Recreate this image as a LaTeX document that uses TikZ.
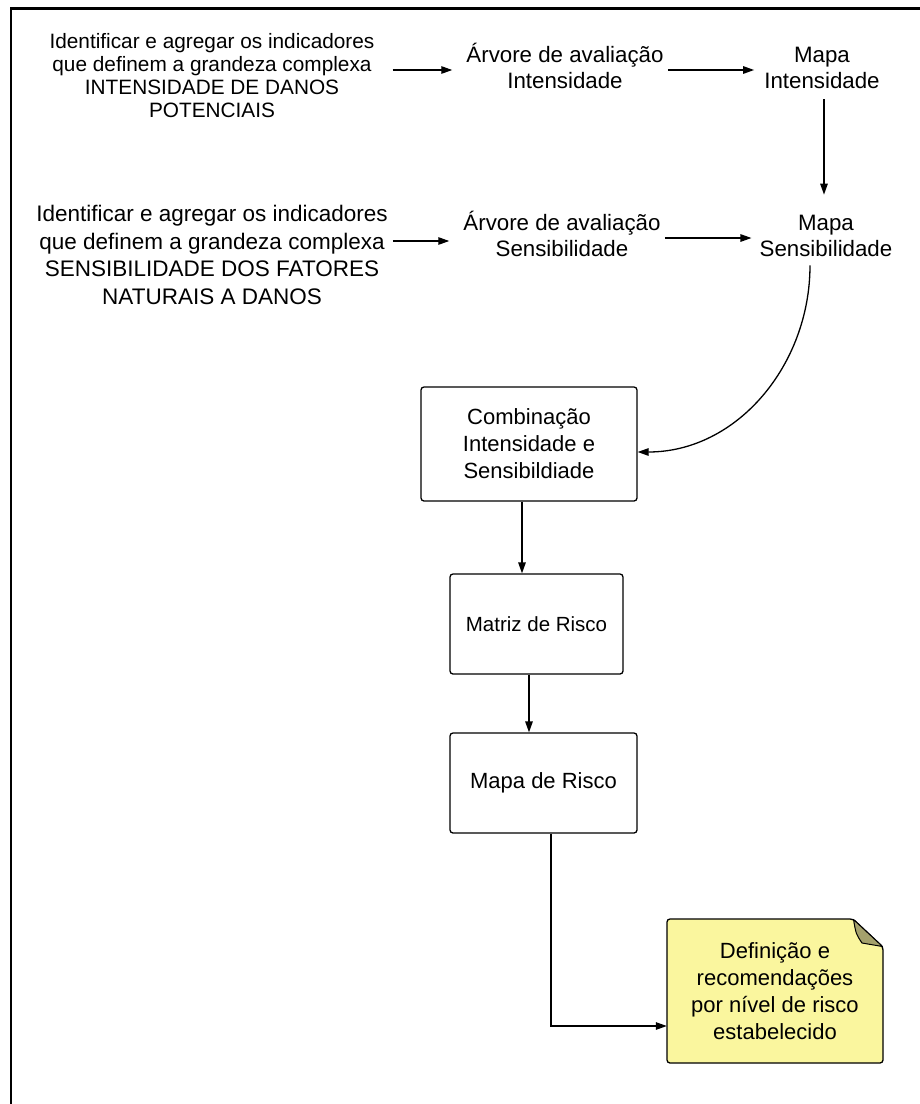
\documentclass[tikz,border=0pt]{standalone}
\usepackage{fontspec}
\setmainfont{Liberation Sans}
\usetikzlibrary{arrows.meta}
\definecolor{notefill}{RGB}{250,246,158}
\definecolor{notefold}{RGB}{164,161,108}

\begin{document}
\begin{tikzpicture}[x=1pt,y=-1pt,
  arr/.style={draw, line width=1.3pt, -{Triangle[length=11pt,width=7.5pt]}},
  lbl/.style={align=center, inner sep=0pt, font=\fontsize{22.3}{26.8}\selectfont},
  box/.style={draw, line width=1.3pt, rounded corners=3pt, align=center, inner sep=0pt},
]
\useasboundingbox (0,0) rectangle (920,1104);

% outer frame (runs past the page edge on the right and bottom)
\draw[line width=2.6pt] (11,1120) -- (11,8.5) -- (940,8.5);

% first row: intensity
\node[lbl, font=\fontsize{20.8}{23}\selectfont] (t1) at (212,76)
  {Identificar e agregar os indicadores\\que definem a grandeza complexa\\INTENSIDADE DE DANOS\\POTENCIAIS};
\node[lbl] (a1) at (565,66) {Árvore de avaliação\\Intensidade};
\node[lbl] (m1) at (822,68) {Mapa\\Intensidade};

% second row: sensitivity
\node[lbl, font=\fontsize{22.5}{27.4}\selectfont] (t2) at (212,255)
  {Identificar e agregar os indicadores\\que definem a grandeza complexa\\SENSIBILIDADE DOS FATORES\\NATURAIS A DANOS};
\node[lbl] (a2) at (562,234) {Árvore de avaliação\\Sensibilidade};
\node[lbl] (m2) at (826,236) {Mapa\\Sensibilidade};

% process boxes
\node[box, minimum width=216pt, minimum height=114pt, font=\fontsize{22}{27}\selectfont] (comb) at (529,444)
  {Combinação\\Intensidade e\\Sensibildiade};
\node[box, minimum width=173pt, minimum height=100pt, font=\fontsize{20.5}{26}\selectfont] (matriz) at (536.5,624)
  {Matriz de Risco};
\node[box, minimum width=187pt, minimum height=100pt, font=\fontsize{22}{27}\selectfont] (risco) at (543.5,783)
  {Mapa de Risco};

% note with folded corner
\filldraw[fill=notefill, line width=1.3pt, rounded corners=3pt]
  (667,919) -- (853,919) -- (883,947) -- (883,1063) -- (667,1063) -- cycle;
\filldraw[fill=notefold, line width=1pt, line join=round]
  (853.5,919.5) .. controls (856,934) .. (862,943) -- (882.5,946.5) -- cycle;
\node[align=center, inner sep=0pt, minimum width=216pt, minimum height=144pt,
  font=\fontsize{22}{26.8}\selectfont] (note) at (775,991)
  {Definição e\\recomendações\\por nível de risco\\estabelecido};

% connectors
\draw[arr] ([xshift=18pt,yshift=6pt]t1.east) -- ([xshift=-14pt,yshift=-4pt]a1.west);
\draw[arr] ([xshift=4pt,yshift=-4pt]a1.east) -- ([xshift=-10pt,yshift=-2pt]m1.west);
\draw[arr] ([xshift=2pt,yshift=-10pt]m1.south) -- ([xshift=-2pt,yshift=20pt]m2.north);

\draw[arr] ([xshift=5pt,yshift=14pt]t2.east) -- ([xshift=-14pt,yshift=-7pt]a2.west);
\draw[arr] ([xshift=4pt,yshift=-4pt]a2.east) -- ([xshift=-8pt,yshift=-2pt]m2.west);

\draw[arr] ([xshift=-16pt,yshift=-8pt]m2.south) to[out=-90,in=0] ([yshift=-8pt]comb.east);

\draw[arr] ([xshift=-7pt]comb.south) -- ([xshift=-7pt]comb.south |- matriz.north);
\draw[arr] ([xshift=-7.5pt]matriz.south) -- ([xshift=-7.5pt]matriz.south |- risco.north);
\draw[arr] ([xshift=7.5pt]risco.south) |- ([yshift=-35pt]note.west);
\end{tikzpicture}
\end{document}
